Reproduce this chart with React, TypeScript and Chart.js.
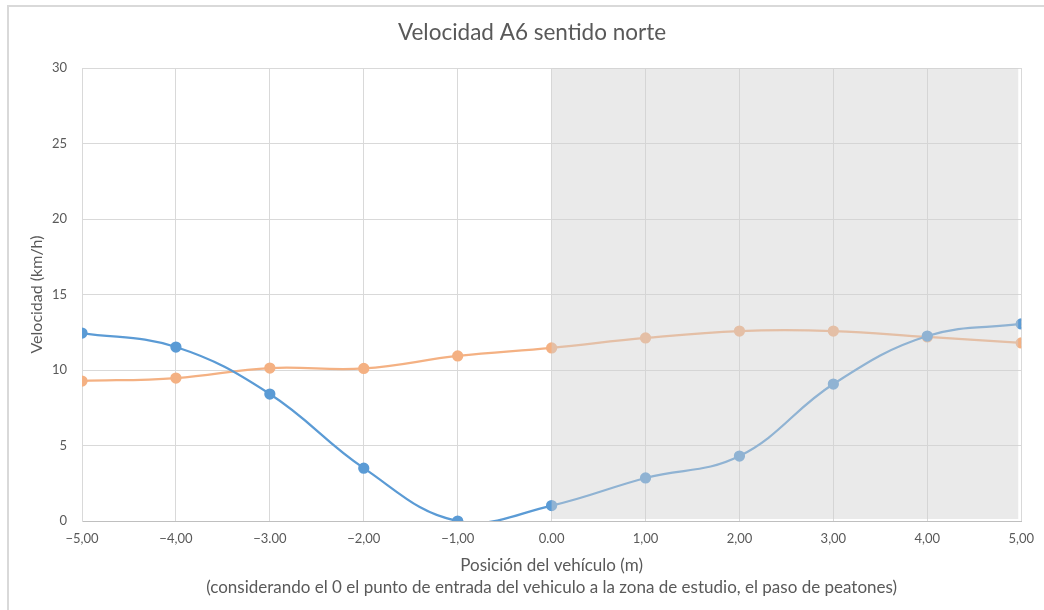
import React, { useEffect, useRef } from "react";
import { Chart, registerables } from "chart.js";

Chart.register(...registerables);

const positions = [-5, -4, -3, -2, -1, 0, 1, 2, 3, 4, 5];
const xTickLabels = ["−5,00", "−4,00", "−3.00", "−2,00", "−1,00", "0.00", "1,00", "2,00", "3,00", "4,00", "5,00"];
const serieAzul = [12.45, 11.52, 8.41, 3.5, 0, 1.02, 2.85, 4.3, 9.07, 12.25, 13.05];
const serieNaranja = [9.27, 9.47, 10.13, 10.1, 10.93, 11.46, 12.12, 12.58, 12.58, 12.19, 11.79];
const yTicks = [0, 5, 10, 15, 20, 25, 30];

const FONT = "Lato, 'Open Sans', sans-serif";
const TEXT = "#595959";

const shadePlugin = {
  id: "shadeZone",
  afterDatasetsDraw(chart: any) {
    const { ctx, chartArea, scales } = chart;
    const x0 = scales.x.getPixelForValue(0);
    const x1 = scales.x.getPixelForValue(5) - 3;
    ctx.save();
    ctx.fillStyle = "rgba(208,208,208,0.45)";
    ctx.fillRect(x0, chartArea.top, x1 - x0, chartArea.bottom - chartArea.top - 2);
    ctx.restore();
  },
};

export default function App() {
  const ref = useRef<HTMLCanvasElement>(null);
  useEffect(() => {
    if (!ref.current) return;
    const chart = new Chart(ref.current, {
      type: "line",
      data: {
        datasets: [
          {
            label: "A",
            data: positions.map((x, i) => ({ x, y: serieAzul[i] })),
            borderColor: "#5b9bd5",
            backgroundColor: "#5b9bd5",
            borderWidth: 2.25,
            pointRadius: 4.5,
            pointHoverRadius: 4.5,
            tension: 0.4,
            capBezierPoints: false,
          },
          {
            label: "B",
            data: positions.map((x, i) => ({ x, y: serieNaranja[i] })),
            borderColor: "#f4b183",
            backgroundColor: "#f4b183",
            borderWidth: 2.25,
            pointRadius: 4.5,
            pointHoverRadius: 4.5,
            tension: 0.4,
            capBezierPoints: false,
          },
        ],
      },
      options: {
        responsive: false,
        animation: false,
        elements: { line: { capBezierPoints: false } },
        layout: { padding: { left: 42, right: 22, top: 0, bottom: 0 } },
        plugins: {
          legend: { display: false },
          tooltip: { enabled: false },
          title: {
            display: true,
            text: "Velocidad A6 sentido norte",
            color: TEXT,
            font: { family: FONT, size: 22.5, weight: "normal", lineHeight: 1.2 },
            padding: { top: 19, bottom: 22 },
          },
        },
        scales: {
          x: {
            type: "linear",
            min: -5,
            max: 5,
            afterFit: (s: any) => { s.height = 89; },
            afterBuildTicks: (s: any) => { s.ticks = positions.map((v) => ({ value: v })); },
            ticks: {
              color: TEXT,
              font: { family: FONT, size: 13 },
              padding: 10,
              maxRotation: 0,
              autoSkip: false,
              callback: (v: any) => {
                const i = positions.indexOf(Number(v));
                return i >= 0 ? xTickLabels[i] : "";
              },
            },
            grid: { color: "#d9d9d9", drawTicks: false, lineWidth: 1 },
            border: { color: "#bfbfbf", width: 1 },
            title: {
              display: true,
              text: ["Posición del vehículo (m)", "(considerando el 0 el punto de entrada del vehiculo a la zona de estudio, el paso de peatones)"],
              color: TEXT,
              font: { family: FONT, size: 17, lineHeight: 22 / 17 },
              padding: { top: 0, bottom: 11 },
            },
          },
          y: {
            type: "linear",
            min: 0,
            max: 30,
            afterFit: (s: any) => { s.width = 40; },
            afterBuildTicks: (s: any) => { s.ticks = yTicks.map((v) => ({ value: v })); },
            ticks: {
              color: TEXT,
              font: { family: FONT, size: 13 },
              padding: 15,
            },
            grid: { color: "#d9d9d9", drawTicks: false, lineWidth: 1 },
            border: { color: "#d9d9d9", width: 1 },
            title: {
              display: true,
              text: "Velocidad (km/h)",
              color: TEXT,
              font: { family: FONT, size: 16, lineHeight: 1.2 },
              padding: { top: -15, bottom: 0 },
            },
          },
        },
      },
      plugins: [shadePlugin],
    } as any);
    return () => chart.destroy();
  }, []);

  return (
    <div style={{ position: "fixed", left: 0, top: 0, width: 1044, height: 610, overflow: "hidden", background: "#fff" }}>
      <div style={{ position: "absolute", left: 7, top: 5, width: 1100, height: 700, border: "2px solid #d9d9d9", boxSizing: "border-box" }} />
      <canvas ref={ref} width={1044} height={610} style={{ position: "absolute", left: 0, top: 0, width: 1044, height: 610 }} />
    </div>
  );
}
